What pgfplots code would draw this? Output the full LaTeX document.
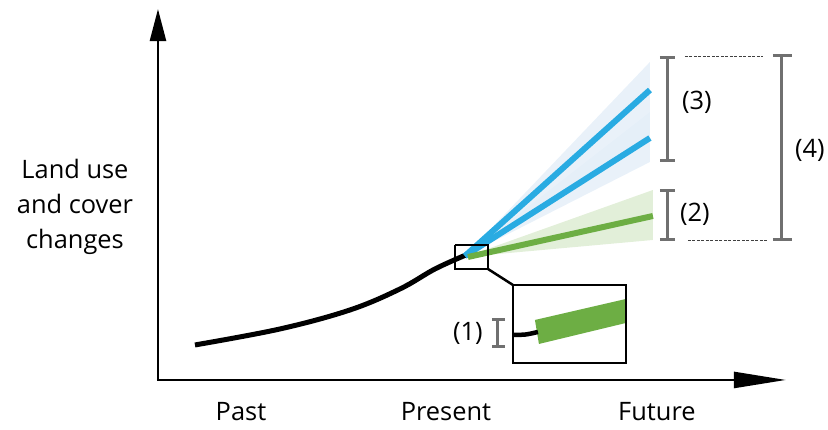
\documentclass[border=0pt]{standalone}
\usepackage{fontspec}
\setmainfont{Open Sans}
\usepackage{pgfplots}
\pgfplotsset{compat=1.18}
\usetikzlibrary{arrows.meta}

\definecolor{lineblue}{RGB}{41,171,226}
\definecolor{linegreen}{RGB}{109,174,68}
\definecolor{coneblue}{RGB}{228,238,248}
\definecolor{conegreen}{RGB}{226,239,217}
\definecolor{bargray}{RGB}{112,112,112}
\newcommand{\lbl}{\fontsize{25.5}{35}\selectfont}

\begin{document}
\begin{tikzpicture}
\begin{axis}[
    width=828bp, height=430bp, scale only axis,
    xmin=0, xmax=828, ymin=0, ymax=430,
    y dir=reverse,
    hide axis, clip=false,
]
% scenario cones
\addplot[fill=coneblue, draw=none, opacity=0.8] coordinates {(465,256) (650,62) (650,140) (465,256)};
\addplot[fill=coneblue, draw=none, opacity=0.8] coordinates {(465,256) (650,112) (650,162) (465,256)};
\addplot[fill=conegreen, draw=none] coordinates {(465,257) (653,190) (653,240) (465,257)};

% past trajectory
\addplot[black, line width=5bp, smooth, tension=0.6] coordinates {
    (195,345) (280,329) (350,310) (400,289) (435,269) (466,255)};

% scenario lines
\addplot[lineblue, line width=6bp] coordinates {(465,256) (650,90)};
\addplot[lineblue, line width=6bp] coordinates {(465,256) (650,138)};
\addplot[linegreen, line width=6bp] coordinates {(468,257) (653,216)};

% axes
\addplot[black, line width=2.5bp, -{Triangle[length=32bp,width=16bp]}] coordinates {(158,381) (158,9)};
\addplot[black, line width=2.5bp, -{Triangle[length=52bp,width=16bp]}] coordinates {(157,380) (786,380)};

% zoom boxes
\addplot[black, line width=2.5bp] coordinates {(455,245) (488,245) (488,269) (455,269) (455,245)};
\addplot[black, line width=2.5bp] coordinates {(488,269) (513,285)};
\addplot[fill=linegreen, draw=none] coordinates {(535,320) (626,299) (626,323) (539,344) (535,320)};
\addplot[black, line width=4.5bp, smooth] coordinates {(513,335) (526,334.5) (538,332)};
\addplot[black, line width=2.8bp] coordinates {(513,285) (626,285) (626,363) (513,363) (513,285)};

% uncertainty bars
\addplot[bargray, line width=3bp] coordinates {(498,320) (498,347)};
\addplot[bargray, line width=3bp] coordinates {(492,320) (505,320)};
\addplot[bargray, line width=3bp] coordinates {(492,347) (505,347)};

\addplot[bargray, line width=3bp] coordinates {(668,58) (668,161)};
\addplot[bargray, line width=3bp] coordinates {(660,58) (675,58)};
\addplot[bargray, line width=3bp] coordinates {(660,161) (675,161)};

\addplot[bargray, line width=3bp] coordinates {(668,191) (668,240)};
\addplot[bargray, line width=3bp] coordinates {(660,191) (675,191)};
\addplot[bargray, line width=3bp] coordinates {(660,240) (675,240)};

\addplot[bargray, line width=3bp] coordinates {(782,56) (782,240)};
\addplot[bargray, line width=3bp] coordinates {(773,56) (792,56)};
\addplot[bargray, line width=3bp] coordinates {(773,240) (792,240)};

\addplot[black!75, line width=0.9bp, dash pattern=on 3bp off 1.5bp] coordinates {(685,56) (763,56)};
\addplot[black!75, line width=0.9bp, dash pattern=on 3bp off 1.5bp] coordinates {(688,240) (767,240)};

% labels
\node[align=center, font=\lbl] at (axis cs:75,207) {Land use\\and cover\\changes};
\node[font=\lbl] at (axis cs:241,412) {Past};
\node[font=\lbl] at (axis cs:446,412) {Present};
\node[font=\lbl] at (axis cs:657,412) {Future};
\node[font=\lbl] at (axis cs:468,333) {(1)};
\node[font=\lbl] at (axis cs:695,214) {(2)};
\node[font=\lbl] at (axis cs:697,102) {(3)};
\node[font=\lbl] at (axis cs:810,150) {(4)};

\path (rel axis cs:0,0) rectangle (rel axis cs:1,1);
\end{axis}
\end{tikzpicture}
\end{document}
